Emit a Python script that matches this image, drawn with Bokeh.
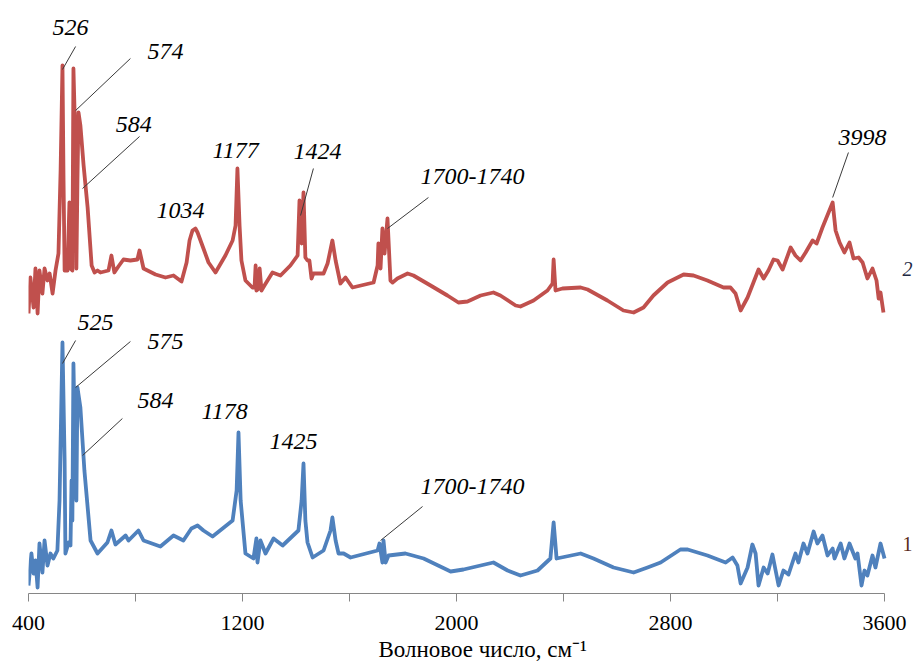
from bokeh.plotting import figure
from bokeh.models import Range1d, FixedTicker, Title
from bokeh.core.properties import value
from bokeh.embed import file_html
from bokeh.resources import INLINE

# Spectrum 2 (red, upper)
wn2 = [400, 407, 419, 426, 434, 441, 452, 460, 471, 479, 490, 501, 512, 520, 527, 531, 535, 546, 553, 557,
       564, 568, 576, 579, 583, 587, 594, 606, 621, 636, 647, 658, 669, 699, 710, 721, 736, 755, 781,
       807, 815, 830, 875, 912, 942, 972, 991, 1002, 1013, 1024, 1032, 1054, 1073, 1099, 1136, 1163, 1174, 1181, 1189,
       1196, 1211, 1237, 1245, 1249, 1252, 1260, 1264, 1271, 1282, 1312, 1342, 1379, 1406, 1413, 1421, 1428,
       1435, 1443, 1450, 1458, 1465, 1503, 1518, 1536, 1548, 1566, 1585, 1611, 1690, 1705, 1708, 1716, 1723,
       1731, 1742, 1753, 1761, 1779, 1817, 1839, 1903, 1966, 2007, 2041, 2090, 2138, 2164, 2221, 2239, 2288,
       2340, 2359, 2363, 2370, 2396, 2464, 2490, 2564, 2624, 2662, 2699, 2736, 2789, 2849, 2886, 2938, 2998,
       3024, 3043, 3062, 3088, 3110, 3129, 3148, 3166, 3185, 3200, 3219, 3249, 3267, 3286, 3305, 3331, 3346,
       3368, 3406, 3417, 3432, 3450, 3469, 3484, 3503, 3518, 3536, 3555, 3570, 3578, 3585, 3596]
ab2 = [2.80, 3.16, 2.86, 3.25, 2.80, 3.23, 3.00, 3.25, 3.13, 3.20, 3.00, 3.23, 3.40, 4.23, 5.28, 4.13, 3.23, 3.23, 3.91, 3.25,
       3.23, 5.25, 4.43, 3.25, 4.13, 4.81, 4.68, 4.28, 3.86, 3.28, 3.21, 3.23, 3.21, 3.23, 3.38, 3.21, 3.27, 3.34, 3.33,
       3.34, 3.43, 3.25, 3.19, 3.16, 3.18, 3.12, 3.31, 3.53, 3.63, 3.65, 3.61, 3.45, 3.31, 3.21, 3.38, 3.53, 3.68, 4.25, 3.68,
       3.33, 3.13, 3.06, 3.06, 3.28, 3.03, 3.05, 3.25, 3.03, 3.08, 3.21, 3.18, 3.28, 3.38, 3.93, 3.50, 4.01,
       3.36, 3.33, 3.33, 3.15, 3.20, 3.20, 3.30, 3.53, 3.33, 3.10, 3.16, 3.06, 3.11, 3.28, 3.50, 3.25, 3.65,
       3.40, 3.75, 3.13, 3.11, 3.15, 3.20, 3.18, 3.08, 2.98, 2.91, 2.92, 2.98, 3.01, 2.98, 2.88, 2.87, 2.93,
       3.03, 3.10, 3.34, 3.03, 3.05, 3.06, 3.04, 2.93, 2.83, 2.81, 2.86, 2.98, 3.11, 3.19, 3.18, 3.13, 3.06,
       3.06, 3.00, 2.83, 2.96, 3.11, 3.24, 3.15, 3.23, 3.34, 3.33, 3.24, 3.46, 3.38, 3.33, 3.41, 3.53, 3.50,
       3.66, 3.91, 3.63, 3.51, 3.41, 3.51, 3.35, 3.36, 3.31, 3.15, 3.25, 3.13, 2.95, 3.01, 2.81]

# Spectrum 1 (blue, lower)
wn1 = [400, 411, 419, 426, 434, 441, 452, 460, 471, 482, 493, 508, 516, 527, 535, 538, 550, 557, 561, 564,
       568, 572, 579, 583, 594, 609, 632, 658, 695, 710, 725, 763, 774, 811, 830, 893, 942, 979, 1009, 1032, 1054, 1088,
       1163, 1178, 1185, 1193, 1211, 1241, 1252, 1256, 1267, 1286, 1316, 1350, 1409, 1421, 1428, 1435, 1443,
       1462, 1503, 1529, 1536, 1548, 1559, 1578, 1604, 1705, 1712, 1723, 1727, 1735, 1746, 1809, 1877, 1978,
       2026, 2138, 2191, 2239, 2303, 2351, 2363, 2374, 2464, 2512, 2587, 2662, 2714, 2763, 2837, 2864, 2938,
       3006, 3032, 3050, 3062, 3088, 3106, 3118, 3129, 3148, 3163, 3181, 3204, 3222, 3241, 3267, 3278, 3297,
       3312, 3335, 3349, 3368, 3387, 3406, 3413, 3436, 3450, 3469, 3491, 3499, 3514, 3525, 3536, 3555, 3566,
       3585, 3600]
ab1 = [0.08, 0.40, 0.20, 0.33, 0.06, 0.50, 0.21, 0.53, 0.28, 0.40, 0.35, 0.43, 0.93, 2.51, 1.33, 0.40, 0.51, 0.48, 1.13, 0.73,
       2.30, 1.73, 0.93, 2.06, 1.86, 1.23, 0.53, 0.40, 0.51, 0.63, 0.49, 0.58, 0.53, 0.63, 0.53, 0.47, 0.58, 0.53, 0.65, 0.68, 0.63, 0.57,
       0.73, 1.03, 1.61, 0.93, 0.40, 0.35, 0.55, 0.31, 0.53, 0.40, 0.55, 0.48, 0.63, 0.93, 1.30, 0.73, 0.51,
       0.36, 0.43, 0.63, 0.76, 0.53, 0.40, 0.40, 0.36, 0.43, 0.50, 0.31, 0.53, 0.31, 0.38, 0.40, 0.35, 0.22,
       0.24, 0.31, 0.23, 0.18, 0.23, 0.35, 0.71, 0.35, 0.40, 0.35, 0.26, 0.21, 0.26, 0.31, 0.44, 0.44, 0.38,
       0.31, 0.36, 0.28, 0.10, 0.26, 0.49, 0.40, 0.08, 0.26, 0.20, 0.39, 0.08, 0.23, 0.19, 0.40, 0.31, 0.50,
       0.40, 0.62, 0.50, 0.58, 0.38, 0.45, 0.35, 0.50, 0.35, 0.50, 0.35, 0.40, 0.08, 0.23, 0.18, 0.38, 0.26,
       0.50, 0.35]

# Peak annotations: text and label position
ann_text = ["526", "574", "584", "1034", "1177", "1424", "1700-1740", "3998",
            "525", "575", "584", "1178", "1425", "1700-1740"]
ann_x = [557, 912, 793, 968, 1174, 1480, 2060, 3518,
         650, 912, 875, 1133, 1391, 2060]
ann_y = [5.66, 5.42, 4.69, 3.83, 4.43, 4.42, 4.17, 4.56,
         2.71, 2.52, 1.93, 1.82, 1.52, 1.07]

# Leader lines (from -> to)
lead_x0 = [576, 781, 815, 1465, 1895, 3465, 576, 781, 751, 1873]
lead_y0 = [5.47, 5.35, 4.57, 4.25, 3.96, 4.41, 2.53, 2.52, 1.75, 0.87]
lead_x1 = [527, 576, 602, 1417, 1742, 3406, 527, 576, 602, 1716]
lead_y1 = [5.24, 4.83, 4.05, 3.78, 3.65, 3.96, 2.30, 2.06, 1.38, 0.53]

ticks = [400, 800, 1200, 1600, 2000, 2400, 2800, 3200, 3600]
tick_labels = {400: "400", 800: "", 1200: "1200", 1600: "", 2000: "2000",
               2400: "", 2800: "2800", 3200: "", 3600: "3600"}
x_title = "Волновое число, см⁻¹"

p = figure(width=914, height=669, output_backend="svg", toolbar_location=None,
           x_range=Range1d(400, 3712), y_range=Range1d(0, 5.93),
           min_border_left=28, min_border_right=0, min_border_top=0, min_border_bottom=76)
p.outline_line_color = None
p.grid.visible = False
p.yaxis.visible = False
p.background_fill_color = "white"
p.border_fill_color = "white"

ax = p.xaxis[0]
ax.bounds = (400, 3600)
ax.ticker = FixedTicker(ticks=ticks)
ax.major_label_overrides = tick_labels
ax.minor_tick_line_color = None
ax.major_tick_in = 0
ax.major_tick_out = 8
ax.axis_line_color = "#868686"
ax.major_tick_line_color = "#868686"
ax.major_label_text_font = "Liberation Serif"
ax.major_label_text_font_size = "22px"
ax.major_label_text_color = "black"
ax.major_label_standoff = 14

p.add_layout(Title(text=x_title, align="left", offset=350, standoff=4, text_font="Liberation Serif",
                   text_font_size="23px", text_font_style="normal", text_color="black"), "below")

p.line(wn2, ab2, line_color="#C0504D", line_width=3.8, line_join="round")
p.line(wn1, ab1, line_color="#4F81BD", line_width=3.8, line_join="round")

p.segment(lead_x0, lead_y0, lead_x1, lead_y1, line_color="#3a3a3a", line_width=1)

p.text(ann_x, ann_y, text=ann_text, text_font=value("Liberation Serif"),
       text_font_style="italic", text_font_size="24px", text_color="black",
       text_align="center", text_baseline="middle")

# Curve numbers at the right end
p.text([3686], [3.25], text=["2"], text_font=value("Liberation Serif"),
       text_font_size="20px", text_color="#1f2a44",
       text_font_style="italic", text_align="center", text_baseline="middle")
p.text([3686], [0.50], text=["1"], text_font=value("Liberation Serif"),
       text_font_size="20px", text_color="#5a2a1a",
       text_font_style="normal", text_align="center", text_baseline="middle")

open("out.html", "w").write(file_html(p, INLINE))
